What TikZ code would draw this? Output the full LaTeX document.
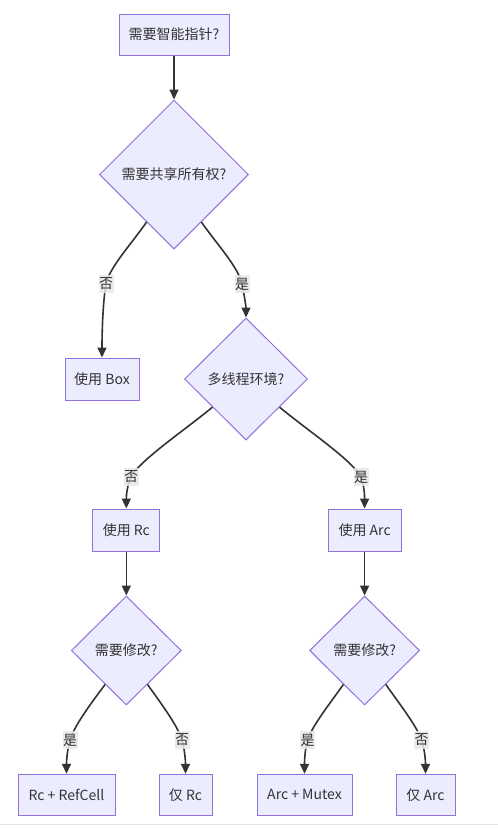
\documentclass[tikz,border=0pt]{standalone}
\usepackage{fontspec}
\setmainfont{Noto Sans CJK SC}
\usetikzlibrary{shapes.geometric,arrows.meta}
\definecolor{nodefill}{HTML}{ECECFF}
\definecolor{nodeline}{HTML}{9370DB}
\definecolor{edgecol}{HTML}{333333}
\definecolor{txtcol}{HTML}{333333}
\definecolor{lblbg}{HTML}{E8E8E8}
\definecolor{rulecol}{HTML}{E2E2E2}
\tikzset{
  base/.style={fill=nodefill, draw=nodeline, line width=1pt, text=txtcol,
    font=\fontsize{14}{16}\selectfont, inner sep=0pt},
  proc/.style={base, rectangle, minimum height=41pt},
  decide/.style={base, diamond, aspect=1},
  edge/.style={draw=edgecol, line width=1.6pt, -{Triangle[length=10pt,width=9pt]}},
  elabel/.style={fill=lblbg, fill opacity=0.85, text opacity=1, text=txtcol,
    font=\fontsize{14}{16}\selectfont, inner xsep=0.5pt, inner ysep=2.5pt}
}
\begin{document}
\begin{tikzpicture}[x=1pt,y=-1pt]
\useasboundingbox (0,0) rectangle (498,828);
\fill[white] (0,0) rectangle (498,828);

% nodes
\node[proc, minimum width=110pt] (top) at (174,34.5) {需要智能指针?};
\node[decide, minimum width=149pt, minimum height=149pt] (d1) at (174,174.5) {需要共享所有权?};
\node[proc, minimum width=74pt, minimum height=42pt] (box) at (102,379) {使用 Box};
\node[decide, minimum width=123pt, minimum height=122pt] (d2) at (246,379) {多线程环境?};
\node[proc, minimum width=67pt, minimum height=42pt] (rc) at (126.3,530) {使用 Rc};
\node[proc, minimum width=73pt, minimum height=42pt] (arc) at (364.6,530) {使用 Arc};
\node[decide, minimum width=110pt, minimum height=109pt] (d3) at (126.3,650.5) {需要修改?};
\node[decide, minimum width=110pt, minimum height=109pt] (d4) at (364.6,650.5) {需要修改?};
\node[proc, minimum width=97pt] (b1) at (66.5,794.8) {Rc + RefCell};
\node[proc, minimum width=53pt] (b2) at (185.5,794.8) {仅 Rc};
\node[proc, minimum width=95pt] (b3) at (304.5,794.8) {Arc + Mutex};
\node[proc, minimum width=59pt] (b4) at (425.5,794.8) {仅 Arc};

% straight edges
\draw[edge] (top) -- (d1);
\draw[edge] (rc) -- (d3);
\draw[edge] (arc) -- (d4);

% curved edges
\draw[edge] (d1.-120) .. controls (133,242) and (109.5,267) .. (106,284)
  node[elabel] {否} .. controls (103,301) and (102,330) .. (box.north);
\draw[edge] (d1.-60) .. controls (215,242) and (238.5,267) .. (242,284)
  node[elabel] {是} .. controls (244.5,297) and (246,306) .. (d2.north);
\draw[edge] (d2.-140) .. controls (185,430) and (140,460) .. (131,477)
  node[elabel] {否} .. controls (127.5,485) and (126.3,494) .. (rc.north);
\draw[edge] (d2.-40) .. controls (307,430) and (352,460) .. (361,477)
  node[elabel] {是} .. controls (364,485) and (364.6,494) .. (arc.north);
\draw[edge] (d3.-122) .. controls (92,702) and (74,726) .. (70,740)
  node[elabel] {是} .. controls (68,747) and (66.5,758) .. (b1.north);
\draw[edge] (d3.-58) .. controls (160,702) and (178,726) .. (182,740)
  node[elabel] {否} .. controls (184,747) and (185.5,758) .. (b2.north);
\draw[edge] (d4.-122) .. controls (331,702) and (312,726) .. (307.5,740)
  node[elabel] {是} .. controls (305.5,747) and (304.5,758) .. (b3.north);
\draw[edge] (d4.-58) .. controls (398,702) and (417,726) .. (421.5,740)
  node[elabel] {否} .. controls (424,747) and (425.5,758) .. (b4.north);

% bottom rule
\draw[rulecol, line width=1pt] (0,824) -- (498,824);
\end{tikzpicture}
\end{document}
